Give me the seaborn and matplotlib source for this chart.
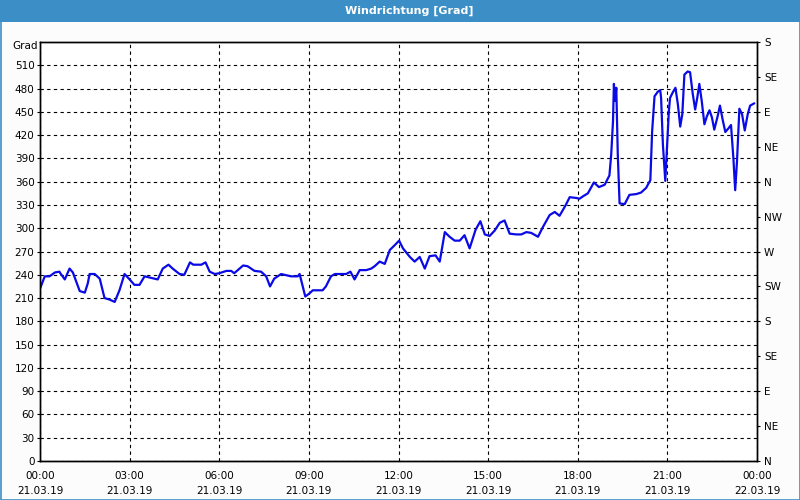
import matplotlib
matplotlib.use("Agg")
import matplotlib.pyplot as plt
import seaborn as sns
import pandas as pd
from matplotlib.patches import Rectangle
from matplotlib.ticker import MultipleLocator

# ---- data ----
hours = [0.0, 0.16, 0.32, 0.5, 0.65, 0.68, 0.83, 0.99, 1.1, 1.33, 1.5, 1.6, 1.66, 1.83, 2.0,
         2.16, 2.33, 2.5, 2.66, 2.83, 3.0, 3.16, 3.33, 3.5, 3.72, 3.94, 4.11, 4.3, 4.44, 4.67,
         4.83, 5.02, 5.13, 5.4, 5.54, 5.68, 5.85, 6.0, 6.24, 6.4, 6.5, 6.8, 6.95, 7.18, 7.4,
         7.57, 7.7, 7.84, 8.07, 8.4, 8.63, 8.69, 8.88, 9.02, 9.13, 9.46, 9.57, 9.74, 9.87,
         10.03, 10.25, 10.39, 10.53, 10.70, 10.92, 11.09, 11.2, 11.37, 11.54, 11.71, 11.87,
         12.02, 12.15, 12.38, 12.54, 12.71, 12.88, 13.04, 13.24, 13.38, 13.55, 13.71, 13.88,
         14.05, 14.21, 14.38, 14.58, 14.74, 14.89, 15.05, 15.22, 15.39, 15.55, 15.72, 15.94,
         16.11, 16.28, 16.44, 16.67, 16.84, 17.06, 17.23, 17.39, 17.6, 17.73, 17.95, 18.06,
         18.17, 18.34, 18.54, 18.71, 18.9, 19.06, 19.12, 19.18, 19.21, 19.25, 19.29, 19.34,
         19.4, 19.57, 19.73, 19.96, 20.12, 20.29, 20.43, 20.49, 20.57, 20.68, 20.76, 20.79,
         20.85, 20.93, 20.98, 21.05, 21.09, 21.18, 21.27, 21.35, 21.43, 21.5, 21.57, 21.68,
         21.76, 21.85, 21.93, 22.0, 22.07, 22.15, 22.24, 22.32, 22.41, 22.49, 22.57, 22.68,
         22.76, 22.85, 22.94, 23.05, 23.13, 23.21, 23.27, 23.33, 23.41, 23.5, 23.59, 23.69,
         23.77, 23.91]
grad = [222, 238, 238, 243, 244, 242, 234, 248, 243, 219, 217, 229, 241, 241, 235,
        210, 208, 205, 220, 241, 234, 227, 227, 238, 236, 234, 248, 253, 248, 241,
        240, 256, 253, 253, 256, 244, 241, 242, 245, 245, 242, 252, 251, 245, 244,
        238, 225, 235, 241, 238, 238, 241, 212, 216, 220, 220, 225, 238, 241,
        241, 241, 244, 234, 246, 246, 248, 251, 257, 254, 272, 278,
        284, 274, 263, 257, 263, 248, 264, 265, 257, 295, 289, 284,
        284, 291, 274, 298, 309, 292, 290, 297, 307, 310, 293, 292,
        292, 295, 294, 289, 302, 317, 321, 316, 330, 340, 339, 338,
        341, 345, 359, 353, 356, 368, 395, 438, 486, 464, 481, 395,
        332, 331, 343, 344, 346, 352, 362, 425, 470, 476, 478, 468,
        408, 361, 399, 451, 468, 475, 481, 460, 431, 447, 498, 502,
        501, 473, 453, 468, 486, 464, 434, 444, 452, 443, 427, 444,
        458, 440, 424, 429, 433, 390, 349, 386, 454, 447, 426, 447,
        458, 461]

title = "Windrichtung [Grad]"
y_label = "Grad"
x_ticks = [0, 3, 6, 9, 12, 15, 18, 21, 24]
x_tick_labels = ["00:00\n21.03.19", "03:00\n21.03.19", "06:00\n21.03.19", "09:00\n21.03.19",
                 "12:00\n21.03.19", "15:00\n21.03.19", "18:00\n21.03.19", "21:00\n21.03.19",
                 "00:00\n22.03.19"]
y_ticks = list(range(0, 511, 30))
compass_ticks = list(range(0, 541, 45))
compass_labels = ["N", "NE", "E", "SE", "S", "SW", "W", "NW", "N", "NE", "E", "SE", "S"]

df = pd.DataFrame({"h": hours, "grad": grad})

# ---- figure ----
sns.set_style("white")
plt.rcParams["font.family"] = ["DejaVu Sans"]
plt.rcParams["text.color"] = "black"
plt.rcParams["xtick.color"] = "black"
plt.rcParams["ytick.color"] = "black"
plt.rcParams["xtick.labelcolor"] = "black"
plt.rcParams["ytick.labelcolor"] = "black"
bg = "#fbfcfb"
fig = plt.figure(figsize=(8, 5), dpi=100, facecolor=bg)
ax = fig.add_axes([40 / 800, 1 - 461 / 500, 717 / 800, 419 / 500])
ax.set_facecolor("white")

sns.lineplot(data=df, x="h", y="grad", ax=ax, color="#0a0ae6", linewidth=1.6, sort=False,
             estimator=None)

ax.set_xlim(0, 24)
ax.set_ylim(0, 540)
ax.set_xlabel("")
ax.set_ylabel("")
ax.set_xticks(x_ticks)
ax.set_xticklabels(x_tick_labels, fontsize=7.5, linespacing=1.7)
ax.xaxis.set_minor_locator(MultipleLocator(1))
ax.set_yticks(y_ticks)
ax.set_yticklabels([str(v) for v in y_ticks], fontsize=7.5)
ax.tick_params(axis="x", which="major", direction="out", length=4, width=0.8, colors="black", pad=3)
ax.tick_params(axis="x", which="minor", direction="out", length=2.5, width=0.8, colors="black")
ax.tick_params(axis="y", which="major", direction="out", length=2, width=0.8, colors="black", pad=2)
ax.grid(True, axis="both", which="major", color="black", linestyle=(0, (3, 3)), linewidth=0.8)
for s in ax.spines.values():
    s.set_color("black")
    s.set_linewidth(1.0)
    s.set_visible(True)

ax2 = ax.twinx()
ax2.set_ylim(0, 540)
ax2.set_yticks(compass_ticks)
ax2.set_yticklabels(compass_labels, fontsize=7.5)
ax2.tick_params(axis="y", direction="out", length=2, width=0.8, colors="black", pad=3)
ax2.grid(False)
for s in ax2.spines.values():
    s.set_color("black")
    s.set_linewidth(1.0)

# title bar
fig.patches.append(Rectangle((0, 1 - 22 / 500), 1, 22 / 500, transform=fig.transFigure,
                             facecolor="#3b8fc6", edgecolor="none", zorder=0))
fig.text(409 / 800, 1 - 11 / 500, title, color="white", fontsize=8, fontweight="bold",
         ha="center", va="center")
# border
fig.patches.append(Rectangle((0.5 / 800, 0.5 / 500), 799 / 800, 499 / 500, transform=fig.transFigure,
                             facecolor="none", edgecolor="#3b8fc6", linewidth=1.2, zorder=5))
fig.text(25 / 800, 1 - 46 / 500, y_label, fontsize=7.5, ha="center", va="center", color="black")

fig.savefig("out.png", dpi=100, facecolor=bg)
